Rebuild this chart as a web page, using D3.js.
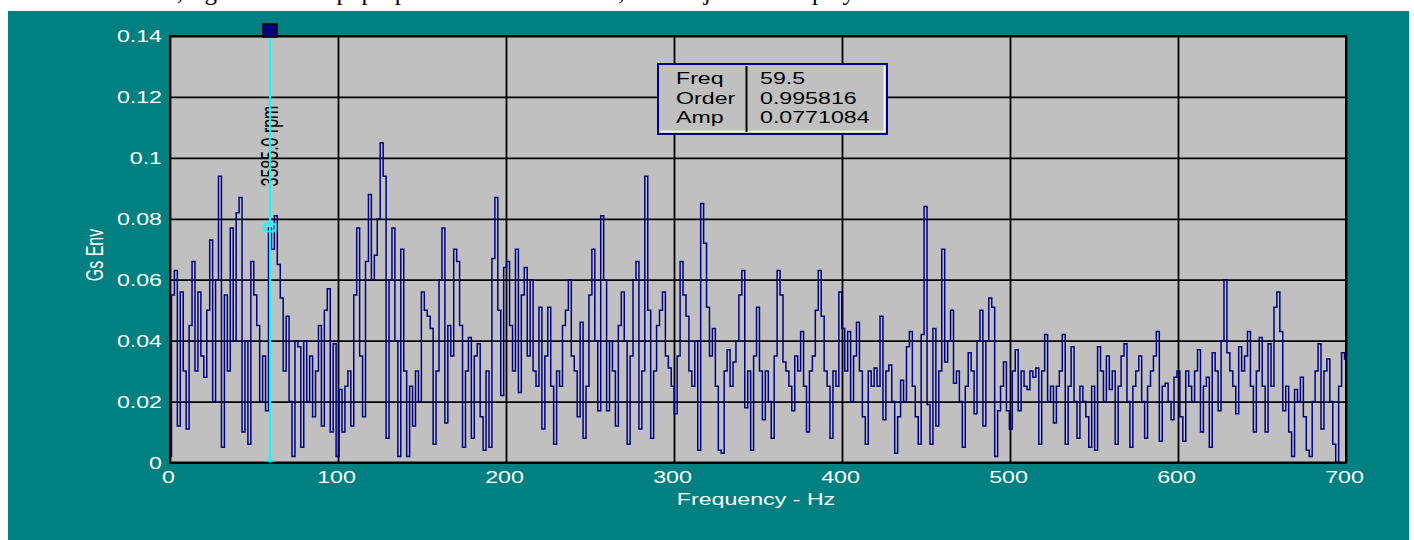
<!DOCTYPE html>
<html>
<head>
<meta charset="utf-8">
<script src="https://cdn.jsdelivr.net/npm/d3@7"></script>
<style>
  html, body { margin: 0; padding: 0; background: #ffffff; }
  svg { display: block; }
</style>
</head>
<body>
<div id="chart"></div>
<script>
// spectrum lines, one every binWidth Hz starting at 0 Hz
const binWidth = 1.75;
const ampValues = [
  0.002, 0.055, 0.063, 0.012, 0.056, 0.030, 0.011, 0.045, 0.066, 0.030,
  0.056, 0.035, 0.028, 0.050, 0.073, 0.020, 0.060, 0.094, 0.005, 0.055,
  0.030, 0.077, 0.040, 0.082, 0.087, 0.010, 0.040, 0.006, 0.066, 0.055,
  0.045, 0.020, 0.035, 0.017, 0.077, 0.070, 0.081, 0.065, 0.054, 0.030,
  0.048, 0.020, 0.002, 0.040, 0.038, 0.005, 0.040, 0.020, 0.035, 0.015,
  0.030, 0.045, 0.012, 0.050, 0.057, 0.010, 0.039, 0.002, 0.024, 0.010,
  0.025, 0.030, 0.012, 0.055, 0.077, 0.035, 0.015, 0.066, 0.088, 0.060,
  0.068, 0.080, 0.105, 0.094, 0.008, 0.060, 0.077, 0.040, 0.002, 0.070,
  0.030, 0.002, 0.025, 0.012, 0.030, 0.020, 0.056, 0.050, 0.048, 0.044,
  0.006, 0.030, 0.060, 0.077, 0.013, 0.045, 0.035, 0.070, 0.066, 0.045,
  0.005, 0.030, 0.041, 0.008, 0.035, 0.039, 0.015, 0.004, 0.030, 0.005,
  0.067, 0.087, 0.050, 0.022, 0.064, 0.066, 0.045, 0.030, 0.070, 0.023,
  0.055, 0.064, 0.035, 0.060, 0.030, 0.025, 0.051, 0.011, 0.035, 0.051,
  0.025, 0.006, 0.030, 0.025, 0.045, 0.050, 0.060, 0.035, 0.030, 0.015,
  0.046, 0.008, 0.025, 0.055, 0.070, 0.040, 0.017, 0.081, 0.060, 0.017,
  0.040, 0.030, 0.012, 0.045, 0.056, 0.040, 0.006, 0.035, 0.060, 0.066,
  0.011, 0.030, 0.094, 0.050, 0.008, 0.030, 0.045, 0.050, 0.056, 0.035,
  0.031, 0.025, 0.016, 0.035, 0.066, 0.055, 0.048, 0.030, 0.025, 0.040,
  0.004, 0.085, 0.072, 0.051, 0.035, 0.044, 0.025, 0.004, 0.003, 0.030,
  0.037, 0.025, 0.033, 0.040, 0.055, 0.063, 0.018, 0.030, 0.004, 0.035,
  0.051, 0.030, 0.014, 0.030, 0.020, 0.008, 0.035, 0.063, 0.055, 0.033,
  0.030, 0.025, 0.017, 0.035, 0.030, 0.043, 0.025, 0.010, 0.030, 0.035,
  0.050, 0.063, 0.048, 0.030, 0.025, 0.008, 0.030, 0.025, 0.056, 0.044,
  0.030, 0.043, 0.020, 0.035, 0.046, 0.030, 0.015, 0.006, 0.030, 0.025,
  0.031, 0.025, 0.048, 0.014, 0.030, 0.032, 0.020, 0.003, 0.015, 0.027,
  0.020, 0.038, 0.043, 0.025, 0.015, 0.006, 0.042, 0.084, 0.019, 0.006,
  0.044, 0.012, 0.030, 0.070, 0.033, 0.040, 0.050, 0.026, 0.030, 0.020,
  0.005, 0.025, 0.036, 0.030, 0.016, 0.040, 0.050, 0.012, 0.040, 0.054,
  0.051, 0.002, 0.017, 0.025, 0.033, 0.017, 0.011, 0.030, 0.037, 0.017,
  0.030, 0.025, 0.024, 0.030, 0.028, 0.031, 0.006, 0.030, 0.042, 0.020,
  0.025, 0.013, 0.025, 0.030, 0.042, 0.006, 0.025, 0.038, 0.020, 0.008,
  0.025, 0.020, 0.015, 0.005, 0.025, 0.004, 0.038, 0.030, 0.020, 0.035,
  0.024, 0.030, 0.006, 0.025, 0.035, 0.039, 0.020, 0.005, 0.025, 0.030,
  0.035, 0.020, 0.008, 0.025, 0.030, 0.035, 0.043, 0.007, 0.025, 0.026,
  0.020, 0.014, 0.028, 0.030, 0.015, 0.007, 0.030, 0.025, 0.020, 0.030,
  0.037, 0.010, 0.025, 0.028, 0.005, 0.036, 0.030, 0.017, 0.040, 0.060,
  0.036, 0.030, 0.025, 0.016, 0.038, 0.030, 0.035, 0.043, 0.025, 0.010,
  0.030, 0.041, 0.025, 0.010, 0.039, 0.025, 0.051, 0.056, 0.043, 0.017,
  0.025, 0.010, 0.002, 0.024, 0.020, 0.028, 0.015, 0.004, 0.002, 0.020,
  0.030, 0.039, 0.011, 0.030, 0.034, 0.020, 0.006, 0.000, 0.025, 0.036,
  0.034
];

const xTicks = [0, 100, 200, 300, 400, 500, 600, 700];
const yTicks = [0, 0.02, 0.04, 0.06, 0.08, 0.1, 0.12, 0.14];
const yTickLabels = ['0', '0.02', '0.04', '0.06', '0.08', '0.1', '0.12', '0.14'];

const cursorFreq = 59.5;
const cursorAmp = 0.0771084;
const cursorRpm = '3585.0 rpm';
const readoutNames = ['Freq', 'Order', 'Amp'];
const readoutValues = ['59.5', '0.995816', '0.0771084'];

const xTitle = 'Frequency - Hz';
const yTitle = 'Gs Env';
const clippedLine = 'or, right-click the pop-up menu to select Scale, then adjust the display';

// the screen grab is stretched sideways, so every label is too
const stretch = 1.45;
const font = '"Liberation Sans", Arial, sans-serif';

const width = 1414, height = 540;
const plot = { left: 170, right: 1346, top: 36, bottom: 462.5 };

const svg = d3.select('#chart').append('svg')
  .attr('width', width)
  .attr('height', height);

// bottom of the document line printed above the figure
svg.append('text')
  .attr('x', 157).attr('y', 0)
  .attr('font-family', '"Liberation Serif", "Times New Roman", serif')
  .attr('font-size', 25)
  .attr('fill', '#000')
  .text(clippedLine);

svg.append('rect')
  .attr('x', 8).attr('y', 11)
  .attr('width', 1401).attr('height', 529)
  .attr('fill', '#008080');

const x = d3.scaleLinear().domain([0, 700]).range([plot.left, plot.right]);
const y = d3.scaleLinear().domain([0, 0.14]).range([plot.bottom, plot.top]);

svg.append('rect')
  .attr('x', plot.left).attr('y', plot.top)
  .attr('width', plot.right - plot.left).attr('height', plot.bottom - plot.top)
  .attr('fill', '#c0c0c0');

// grid + tick labels
const gy = svg.append('g')
  .attr('transform', `translate(${plot.left},0)`)
  .call(d3.axisLeft(y)
    .tickValues(yTicks)
    .tickFormat((d, i) => yTickLabels[i])
    .tickSize(-(plot.right - plot.left)));

const gx = svg.append('g')
  .attr('transform', `translate(0,${plot.bottom})`)
  .call(d3.axisBottom(x)
    .tickValues(xTicks)
    .tickFormat(d3.format('d'))
    .tickSize(-(plot.bottom - plot.top)));

[gx, gy].forEach(g => {
  g.select('.domain').remove();
  g.selectAll('.tick line').attr('stroke', '#000').attr('stroke-width', 1.8);
  g.selectAll('.tick text')
    .attr('fill', '#ffffff')
    .attr('font-family', font)
    .attr('font-size', 16);
});

gy.selectAll('.tick text')
  .attr('x', -8 / stretch)
  .attr('dy', '0.36em')
  .attr('transform', `scale(${stretch},1)`);

gx.selectAll('.tick text')
  .attr('x', -2 / stretch)
  .attr('y', 9)
  .attr('dy', '0.71em')
  .attr('transform', `scale(${stretch},1)`);

// spectrum, drawn as steps like the analyser does
svg.append('clipPath').attr('id', 'plot-clip')
  .append('rect')
  .attr('x', plot.left).attr('y', plot.top)
  .attr('width', plot.right - plot.left).attr('height', plot.bottom - plot.top);

const line = d3.line()
  .x((d, i) => x(i * binWidth))
  .y(d => y(d))
  .curve(d3.curveStep);

svg.append('path')
  .datum(ampValues)
  .attr('clip-path', 'url(#plot-clip)')
  .attr('d', line)
  .attr('fill', 'none')
  .attr('stroke', '#000080')
  .attr('stroke-width', 1.5);

// frame
svg.append('rect')
  .attr('x', plot.left).attr('y', plot.top)
  .attr('width', plot.right - plot.left).attr('height', plot.bottom - plot.top)
  .attr('fill', 'none')
  .attr('stroke', '#000')
  .attr('stroke-width', 2);

// cursor
const cx = x(cursorFreq);

svg.append('text')
  .attr('transform', `translate(${cx + 8},${146}) scale(${stretch},1) rotate(-90)`)
  .attr('text-anchor', 'middle')
  .attr('font-family', font)
  .attr('font-size', 16)
  .attr('fill', '#000')
  .text(cursorRpm);

svg.append('line')
  .attr('x1', cx).attr('x2', cx)
  .attr('y1', plot.top).attr('y2', plot.bottom)
  .attr('stroke', '#00ffff')
  .attr('stroke-width', 2);

svg.append('path')
  .attr('d', `M${cx - 5},${plot.bottom - 1}L${cx + 5},${plot.bottom - 1}L${cx},${plot.bottom - 5}Z`)
  .attr('fill', '#00ffff');

svg.append('rect')
  .attr('x', cx - 5.5).attr('y', y(cursorAmp) - 4)
  .attr('width', 11).attr('height', 8)
  .attr('rx', 3)
  .attr('fill', 'none')
  .attr('stroke', '#00ffff')
  .attr('stroke-width', 2);

svg.append('rect')
  .attr('x', cx - 7).attr('y', 24)
  .attr('width', 14).attr('height', 13)
  .attr('fill', '#000080')
  .attr('stroke', '#000')
  .attr('stroke-width', 1.5);

// readout box
const box = svg.append('g').attr('transform', 'translate(658,64)');
box.append('rect')
  .attr('width', 229).attr('height', 70)
  .attr('fill', '#c0c0c0')
  .attr('stroke', '#000080')
  .attr('stroke-width', 2);
box.append('path')
  .attr('d', 'M2,67.5H226.5V2')
  .attr('fill', 'none')
  .attr('stroke', '#ffffff')
  .attr('stroke-width', 1.5);
box.append('line')
  .attr('x1', 88.5).attr('x2', 88.5)
  .attr('y1', 2).attr('y2', 68)
  .attr('stroke', '#000')
  .attr('stroke-width', 2);

readoutNames.forEach((name, i) => {
  box.append('text')
    .attr('transform', `translate(18,${20 + i * 19.5}) scale(${stretch},1)`)
    .attr('font-family', font).attr('font-size', 16).attr('fill', '#000')
    .text(name);
  box.append('text')
    .attr('transform', `translate(102,${20 + i * 19.5}) scale(${stretch},1)`)
    .attr('font-family', font).attr('font-size', 16).attr('fill', '#000')
    .text(readoutValues[i]);
});

// axis titles
svg.append('text')
  .attr('transform', `translate(${(plot.left + plot.right) / 2 - 2},504.5) scale(${stretch},1)`)
  .attr('text-anchor', 'middle')
  .attr('font-family', font).attr('font-size', 16).attr('fill', '#ffffff')
  .text(xTitle);

svg.append('text')
  .attr('transform', `translate(103,255) scale(${stretch},1) rotate(-90)`)
  .attr('text-anchor', 'middle')
  .attr('font-family', font).attr('font-size', 16).attr('fill', '#ffffff')
  .text(yTitle);
</script>
</body>
</html>
